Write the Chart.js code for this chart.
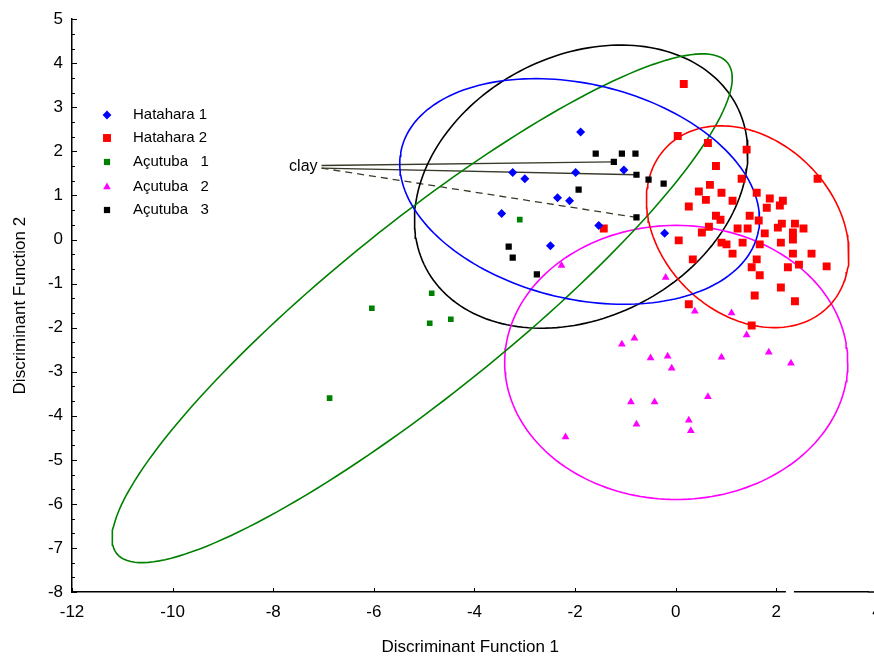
<!DOCTYPE html>
<html>
<head>
<meta charset="utf-8">
<title>Discriminant functions</title>
<script src="https://cdn.jsdelivr.net/npm/chart.js@4.4.1/dist/chart.umd.min.js"></script>
<style>
  html, body { margin: 0; padding: 0; background: #fff; overflow: hidden; }
</style>
</head>
<body>
<canvas id="dfChart" width="874" height="660"></canvas>
<script>
// scores, [function 1, function 2]
const hatahara1 = [[-1.89, 2.44], [-1.03, 1.58], [-3.24, 1.52], [-3.00, 1.38], [-1.99, 1.52], [-2.35, 0.95],
  [-2.11, 0.88], [-3.46, 0.59], [-1.53, 0.32], [-2.49, -0.14], [-0.22, 0.14]];

const hatahara2 = [[0.16, 3.53], [0.04, 2.35], [0.64, 2.19], [1.41, 2.04], [0.80, 1.67], [0.68, 1.24], [1.31, 1.38],
  [0.46, 1.09], [0.91, 1.06], [0.60, 0.90], [1.13, 0.88], [1.61, 1.06], [1.87, 0.93], [2.13, 0.88], [0.26, 0.75],
  [1.81, 0.72], [2.07, 0.77], [0.80, 0.54], [0.89, 0.45], [1.47, 0.54], [1.65, 0.43], [0.66, 0.29], [1.23, 0.25],
  [1.43, 0.25], [1.77, 0.14], [2.03, 0.27], [2.11, 0.36], [2.37, 0.36], [2.54, 0.25], [0.52, 0.16], [2.33, 0.16],
  [0.06, -0.02], [0.91, -0.07], [1.01, -0.11], [1.33, -0.07], [1.67, -0.11], [2.09, -0.07], [2.33, 0.00],
  [1.13, -0.32], [2.33, -0.32], [2.70, -0.32], [0.34, -0.45], [1.61, -0.45], [1.51, -0.63], [2.23, -0.63],
  [2.45, -0.57], [3.00, -0.61], [1.67, -0.81], [2.09, -1.09], [1.57, -1.27], [2.37, -1.40], [0.26, -1.47],
  [1.51, -1.95], [2.82, 1.38], [-1.43, 0.25]];

const acutuba1 = [[-3.10, 0.45], [-4.85, -1.22], [-6.04, -1.56], [-4.89, -1.90], [-4.47, -1.81], [-6.88, -3.60]];

const acutuba2 = [[-2.27, -0.59], [-0.20, -0.86], [0.38, -1.63], [1.11, -1.67], [1.41, -2.17], [-1.07, -2.38],
  [-0.82, -2.24], [-0.50, -2.69], [-0.16, -2.65], [-0.08, -2.92], [0.91, -2.67], [1.85, -2.56], [2.29, -2.81],
  [-0.89, -3.69], [-0.42, -3.69], [0.64, -3.57], [-0.78, -4.19], [0.26, -4.10], [0.30, -4.34], [-2.19, -4.48]];

const acutuba3 = [[-1.59, 1.95], [-1.07, 1.95], [-0.80, 1.95], [-1.23, 1.76], [-0.78, 1.47], [-0.54, 1.36],
  [-0.24, 1.27], [-1.93, 1.13], [-0.78, 0.50], [-3.32, -0.16], [-3.24, -0.41], [-2.76, -0.79]];

const groupNames = ['Hatahara 1', 'Hatahara 2', 'Açutuba   1', 'Açutuba   2', 'Açutuba   3'];

// confidence ellipses: centre and two half-axis vectors, in score units
const ellipseCentre = [[-1.91, 1.09], [1.43, 0.29], [-5.04, -1.56], [0.01, -2.79], [-1.88, 1.20]];
const ellipseAxisA = [[3.54, -0.97], [1.60, -1.82], [6.07, 5.57], [3.41, 0], [3.08, 1.86]];
const ellipseAxisB = [[-0.50, -2.37], [-1.22, -1.39], [1.07, -1.52], [0, 3.11], [1.22, -2.62]];

// "clay" annotation: where the leader lines start and end
const clayAnchor = [-7.04, 1.65];
const clayTargets = [[-1.23, 1.76], [-0.78, 1.47], [-0.78, 0.50]];

// the x axis runs on past the right edge of the picture (4 is cut off)
const xMin = -12, xMax = 3.83;
const xTickValues = [-12, -10, -8, -6, -4, -2, 0, 2, 4];
const yTickValues = [5, 4, 3, 2, 1, 0, -1, -2, -3, -4, -5, -6, -7, -8];

const colors = ['#0000ff', '#ff0000', '#008000', '#ff00ff', '#000000'];
const styles = ['rectRot', 'rect', 'rect', 'triangle', 'rect'];
const sizes = [4.5, 5.6, 4.0, 4.5, 4.4];
const groups = [hatahara1, hatahara2, acutuba1, acutuba2, acutuba3];

const fontFamily = '"Liberation Sans", Arial, sans-serif';
const tickFont = '17px ' + fontFamily;

function toPoints(arr) {
    return arr.map(function (p) { return { x: p[0], y: p[1] }; });
}

function ellipseOutline(c, a, b) {
    let pts = [];
    for (let i = 0; i <= 180; i++) {
        let t = i / 180 * 2 * Math.PI;
        pts.push({
            x: c[0] + a[0] * Math.cos(t) + b[0] * Math.sin(t),
            y: c[1] + a[1] * Math.cos(t) + b[1] * Math.sin(t)
        });
    }
    return pts;
}

let datasets = [];

groups.forEach(function (g, i) {
    datasets.push({
        label: groupNames[i],
        data: toPoints(g),
        pointStyle: styles[i],
        pointRadius: sizes[i],
        backgroundColor: colors[i],
        borderColor: colors[i],
        borderWidth: 0,
        showLine: false
    });
});

groups.forEach(function (g, i) {
    datasets.push({
        label: 'ellipse ' + groupNames[i],
        data: ellipseOutline(ellipseCentre[i], ellipseAxisA[i], ellipseAxisB[i]),
        showLine: true,
        pointRadius: 0,
        borderColor: colors[i],
        borderWidth: 1.6,
        fill: false,
        tension: 0
    });
});

clayTargets.forEach(function (t, i) {
    datasets.push({
        label: 'clay ' + i,
        data: [{ x: clayAnchor[0], y: clayAnchor[1] + (i === 0 ? 0.03 : -0.03) }, { x: t[0], y: t[1] }],
        showLine: true,
        pointRadius: 0,
        borderColor: '#3a3a2a',
        borderWidth: 1.3,
        borderDash: i === 2 ? [7, 5] : []
    });
});

// x tick labels, ticks pointing into the plot, axis break, legend and the "clay" label
const plotExtras = {
    id: 'plotExtras',
    afterDraw(chart) {
        const ctx = chart.ctx;
        const xs = chart.scales.x, ys = chart.scales.y;
        const area = chart.chartArea;
        ctx.save();
        ctx.strokeStyle = '#000';
        ctx.lineWidth = 1;

        xTickValues.forEach(function (v) {
            let px = Math.round(xs.getPixelForValue(v)) + 0.5;
            ctx.beginPath();
            ctx.moveTo(px, area.bottom);
            ctx.lineTo(px, area.bottom - 4);
            ctx.stroke();
            ctx.fillStyle = '#000';
            ctx.font = tickFont;
            ctx.textAlign = 'center';
            ctx.textBaseline = 'top';
            ctx.fillText(String(v), xs.getPixelForValue(v), area.bottom + 12);
        });
        // axis line carries on to the edge of the picture
        ctx.lineWidth = 1.5;
        ctx.beginPath();
        ctx.moveTo(area.right, area.bottom);
        ctx.lineTo(chart.width, area.bottom);
        ctx.stroke();
        ctx.lineWidth = 1;

        yTickValues.forEach(function (v) {
            let py = Math.round(ys.getPixelForValue(v)) + 0.5;
            ctx.beginPath();
            ctx.moveTo(area.left, py);
            ctx.lineTo(area.left + 5, py);
            ctx.stroke();
            if (v > -8) {
                [1 / 3, 2 / 3].forEach(function (f) {
                    let pm = Math.round(ys.getPixelForValue(v - f)) + 0.5;
                    ctx.beginPath();
                    ctx.moveTo(area.left, pm);
                    ctx.lineTo(area.left + 3, pm);
                    ctx.stroke();
                });
            }
        });

        // gap in the x axis
        let g1 = xs.getPixelForValue(2.19), g2 = xs.getPixelForValue(2.35);
        ctx.fillStyle = '#fff';
        ctx.fillRect(g1, area.bottom - 3, g2 - g1, 6);

        // legend
        const helpers = Chart.helpers;
        ctx.font = '15px ' + fontFamily;
        ctx.textBaseline = 'middle';
        ctx.textAlign = 'left';
        const rowY = [115, 138, 162, 187, 210];
        groupNames.forEach(function (name, i) {
            ctx.fillStyle = colors[i];
            ctx.strokeStyle = colors[i];
            helpers.drawPoint(ctx, {
                pointStyle: styles[i],
                radius: i === 1 ? 5.6 : 4.4,
                borderWidth: 0,
                rotation: 0
            }, 107, rowY[i]);
            ctx.fillStyle = '#000';
            ctx.fillText(name, 133, rowY[i]);
        });

        // clay label
        ctx.font = '16px ' + fontFamily;
        ctx.textAlign = 'right';
        ctx.fillStyle = '#000';
        ctx.fillText('clay', xs.getPixelForValue(clayAnchor[0]) - 4, ys.getPixelForValue(clayAnchor[1]));

        ctx.restore();
    }
};

const ctx = document.getElementById('dfChart').getContext('2d');

new Chart(ctx, {
    type: 'scatter',
    data: { datasets: datasets },
    options: {
        responsive: false,
        animation: false,
        devicePixelRatio: 1,
        layout: { padding: { top: 18, right: 0, left: 0, bottom: 0 } },
        plugins: {
            legend: { display: false },
            tooltip: { enabled: false }
        },
        scales: {
            x: {
                type: 'linear',
                min: xMin,
                max: xMax,
                afterFit: function (scale) { scale.height = 68; },
                grid: { display: false, drawTicks: false },
                border: { display: true, color: '#000', width: 1.5 },
                // labels are drawn by plotExtras so the last one can run off the edge
                ticks: { display: false },
                title: {
                    display: true,
                    text: 'Discriminant Function 1',
                    color: '#000',
                    padding: { top: 0, bottom: 2 },
                    font: { family: fontFamily, size: 17 }
                }
            },
            y: {
                type: 'linear',
                min: -8,
                max: 5,
                afterFit: function (scale) { scale.width = 72; },
                afterBuildTicks: function (scale) {
                    scale.ticks = yTickValues.map(function (v) { return { value: v }; });
                },
                grid: { display: false, drawTicks: false },
                border: { display: true, color: '#000', width: 1.5 },
                ticks: {
                    color: '#000',
                    padding: 9,
                    font: { family: fontFamily, size: 17 }
                },
                title: {
                    display: true,
                    text: 'Discriminant Function 2',
                    color: '#000',
                    padding: { top: 10, bottom: 0 },
                    font: { family: fontFamily, size: 17 }
                }
            }
        }
    },
    plugins: [plotExtras]
});
</script>
</body>
</html>
